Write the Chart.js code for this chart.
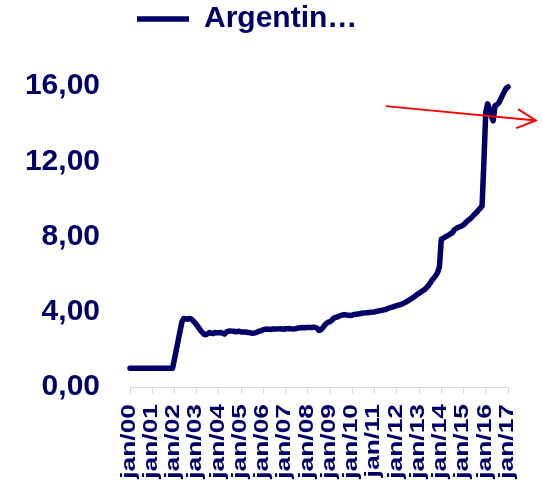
<!DOCTYPE html>
<html>
<head>
<meta charset="utf-8">
<script src="https://cdn.jsdelivr.net/npm/chart.js@4.4.1/dist/chart.umd.min.js"></script>
<style>
    html, body { margin: 0; padding: 0; background: #fff; }
    #wrap { width: 543px; height: 482px; }
</style>
</head>
<body>
<div id="wrap"><canvas id="chart" width="543" height="482"></canvas></div>
<script>
// Exchange rate, monthly, jan/00 .. jan/17

const monthNames = ['jan', 'fev', 'mar', 'abr', 'mai', 'jun', 'jul', 'ago', 'set', 'out', 'nov', 'dez'];
const years = ['00', '01', '02', '03', '04', '05', '06', '07', '08', '09', '10', '11', '12', '13', '14', '15', '16'];
const lastLabel = 'jan/17';

const seriesName = 'Argentin\u2026';

const rate = [
    1.00, 1.00, 1.00, 1.00, 1.00, 1.00, 1.00, 1.00, 1.00, 1.00, 1.00, 1.00, // 2000
    1.00, 1.00, 1.00, 1.00, 1.00, 1.00, 1.00, 1.00, 1.00, 1.00, 1.00, 1.00, // 2001
    1.49, 1.98, 2.47, 2.96, 3.45, 3.64, 3.63, 3.60, 3.64, 3.62, 3.52, 3.42, // 2002
    3.30, 3.16, 3.02, 2.90, 2.80, 2.78, 2.84, 2.90, 2.86, 2.84, 2.90, 2.88, // 2003
    2.88, 2.90, 2.86, 2.82, 2.92, 2.96, 2.98, 2.97, 2.96, 2.94, 2.95, 2.96, // 2004
    2.92, 2.92, 2.93, 2.91, 2.89, 2.88, 2.86, 2.87, 2.89, 2.94, 2.97, 3.00, // 2005
    3.05, 3.07, 3.08, 3.07, 3.06, 3.08, 3.08, 3.08, 3.09, 3.10, 3.08, 3.07, // 2006
    3.10, 3.10, 3.11, 3.09, 3.08, 3.09, 3.11, 3.14, 3.15, 3.16, 3.14, 3.16, // 2007
    3.16, 3.17, 3.16, 3.18, 3.17, 3.12, 3.00, 3.04, 3.14, 3.28, 3.38, 3.45, // 2008
    3.48, 3.56, 3.66, 3.70, 3.73, 3.77, 3.81, 3.84, 3.84, 3.82, 3.81, 3.80, // 2009
    3.82, 3.86, 3.87, 3.88, 3.89, 3.92, 3.93, 3.94, 3.95, 3.96, 3.97, 3.98, // 2010
    3.99, 4.02, 4.04, 4.06, 4.08, 4.10, 4.12, 4.17, 4.20, 4.23, 4.26, 4.30, // 2011
    4.33, 4.36, 4.38, 4.42, 4.47, 4.52, 4.58, 4.64, 4.70, 4.77, 4.84, 4.92, // 2012
    4.98, 5.05, 5.12, 5.18, 5.28, 5.38, 5.52, 5.68, 5.80, 5.92, 6.08, 6.40, // 2013
    7.85, 7.90, 7.97, 8.02, 8.08, 8.15, 8.20, 8.36, 8.42, 8.48, 8.52, 8.56, // 2014
    8.62, 8.72, 8.82, 8.90, 8.98, 9.08, 9.18, 9.28, 9.40, 9.50, 9.62, 12.00, // 2015
    14.60, 15.05, 14.80, 14.40, 14.15, 14.95, 15.00, 15.10, 15.30, 15.50, 15.70, 15.88, // 2016
    15.95 // jan/17
];

const yTicks = [0, 4, 8, 12, 16];

// Red arrow annotation, in data units (month index, value)
const arrowX = [138, 219];
const arrowY = [14.93, 14.17];

const labels = [];
years.forEach(function (y) {
    monthNames.forEach(function (m) { labels.push(m + '/' + y); });
});
labels.push(lastLabel);

const navy = '#000066';
const fontFamily = "'Liberation Sans', Arial, sans-serif";
Chart.defaults.font.family = fontFamily;

// Legend sits right at the top of the canvas
const legendTopPlugin = {
    id: 'legendTop',
    afterLayout: function (chart) {
        const lg = chart.legend;
        if (!lg) return;
        const h = lg.bottom - lg.top;
        const w = lg.right - lg.left;
        lg.top = -6;
        lg.bottom = lg.top + h;
        lg.left = 127;
        lg.right = lg.left + w;
    }
};

// Rotated, slightly stretched january labels under the x axis
const xLabelPlugin = {
    id: 'xLabels',
    afterDraw: function (chart) {
        const scale = chart.scales.x;
        const ctx = chart.ctx;
        ctx.save();
        ctx.fillStyle = navy;
        ctx.font = 'bold 20px ' + fontFamily;
        ctx.textAlign = 'right';
        ctx.textBaseline = 'middle';
        scale.ticks.forEach(function (tick, i) {
            const px = scale.getPixelForTick(i);
            ctx.save();
            ctx.translate(px - 1, scale.top + 17);
            ctx.rotate(-Math.PI / 2);
            ctx.scale(1.32, 1.05);
            ctx.fillText(scale.getLabelForValue(tick.value), 0, 0);
            ctx.restore();
        });
        ctx.restore();
    }
};

const arrowPlugin = {
    id: 'arrow',
    afterDraw: function (chart) {
        const xs = chart.scales.x, ys = chart.scales.y;
        const ctx = chart.ctx;
        const x0 = xs.getPixelForValue(arrowX[0]), y0 = ys.getPixelForValue(arrowY[0]);
        const x1 = xs.getPixelForValue(arrowX[1]), y1 = ys.getPixelForValue(arrowY[1]);
        const ang = Math.atan2(y1 - y0, x1 - x0);
        const len = 21, spread = 27 * Math.PI / 180;
        ctx.save();
        ctx.strokeStyle = '#ff0000';
        ctx.lineWidth = 2;
        ctx.beginPath();
        ctx.moveTo(x0, y0);
        ctx.lineTo(x1, y1);
        ctx.moveTo(x1 - len * Math.cos(ang - spread), y1 - len * Math.sin(ang - spread));
        ctx.lineTo(x1, y1);
        ctx.lineTo(x1 - len * Math.cos(ang + spread), y1 - len * Math.sin(ang + spread));
        ctx.stroke();
        ctx.restore();
    }
};

new Chart(document.getElementById('chart').getContext('2d'), {
    type: 'line',
    data: {
        labels: labels,
        datasets: [{
            label: seriesName,
            data: rate,
            borderColor: navy,
            backgroundColor: navy,
            borderWidth: 5.5,
            borderCapStyle: 'round',
            borderJoinStyle: 'round',
            pointRadius: 0,
            tension: 0,
            clip: false
        }]
    },
    options: {
        responsive: false,
        animation: false,
        layout: {
            padding: { top: 0, right: 35, left: 0, bottom: 0 }
        },
        plugins: {
            legend: {
                position: 'top',
                align: 'start',
                fullSize: false,
                labels: {
                    usePointStyle: true,
                    pointStyle: 'line',
                    pointStyleWidth: 52,
                    padding: 10,
                    color: navy,
                    font: { size: 30, weight: 'bold' }
                }
            },
            tooltip: { enabled: false }
        },
        scales: {
            x: {
                type: 'category',
                offset: false,
                afterBuildTicks: function (scale) {
                    scale.ticks = scale.ticks.filter(function (t) { return t.value % 12 === 0; });
                },
                afterFit: function (scale) {
                    scale.height = 95;
                },
                grid: {
                    display: true,
                    drawOnChartArea: false,
                    drawTicks: true,
                    tickLength: 7,
                    color: '#d9d9d9',
                    lineWidth: 1
                },
                border: { display: true, color: '#d9d9d9', width: 1 },
                ticks: { display: false }
            },
            y: {
                min: 0,
                max: 16,
                afterBuildTicks: function (scale) {
                    scale.ticks = yTicks.map(function (v) { return { value: v }; });
                },
                afterFit: function (scale) {
                    scale.width = 130;
                    scale.paddingTop = 86;
                },
                grid: { display: false, drawTicks: false },
                border: { display: false },
                ticks: {
                    padding: 30,
                    color: navy,
                    font: { size: 30, weight: 'bold' },
                    callback: function (v) { return Number(v).toFixed(2).replace('.', ','); }
                }
            }
        }
    },
    plugins: [legendTopPlugin, xLabelPlugin, arrowPlugin]
});
</script>
</body>
</html>
